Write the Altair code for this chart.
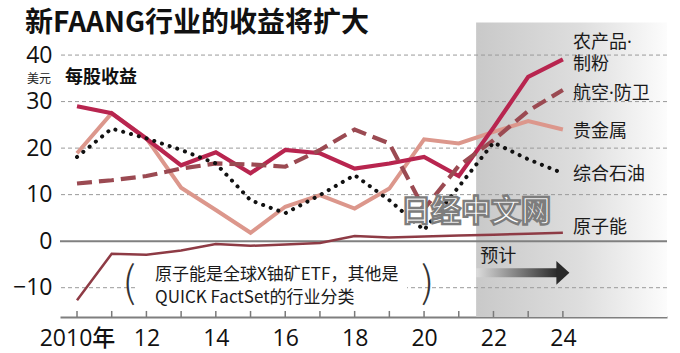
import altair as alt
import pandas as pd

# ---- data ----
years = list(range(2010, 2025))
agri  = [29.0, 27.5, 22.0, 16.3, 19.1, 14.6, 19.6, 18.9, 15.6, 16.7, 18.1, 14.0, 24.4, 35.3, 39.1]
aero  = [12.4, 13.1, 14.0, 15.6, 16.7, 16.5, 16.0, 19.6, 24.0, 21.0, 6.9, 16.2, 21.7, 28.0, 32.5]
metal = [18.9, 27.5, 22.1, 11.5, 6.7, 1.8, 7.4, 9.9, 7.0, 11.3, 21.9, 21.0, 23.5, 25.8, 24.0]
oil   = [18.1, 24.2, 22.1, 19.6, 16.7, 8.8, 6.0, 9.9, 14.2, 8.8, 2.4, 11.7, 21.2, 17.6, 14.6]
nuke  = [-12.7, -2.7, -2.9, -2.0, -0.6, -1.0, -0.7, -0.4, 1.1, 0.8, 1.0, 1.2, 1.4, 1.6, 1.8]

series_names = ["农产品·制粉", "航空·防卫", "贵金属", "综合石油", "原子能"]
series_vals = [agri, aero, metal, oil, nuke]
label_texts = [["农产品·", "制粉"], "航空·防卫", "贵金属", "综合石油", "原子能"]

y_ticks = [-10, 0, 10, 20, 30, 40]
x_label_years = [2010, 2012, 2014, 2016, 2018, 2020, 2022, 2024]
grid_dashed = [-10, 10, 20, 30, 40]
forecast_start = 2021.5

X_MIN, X_MAX = 2009.51, 2027.0
Y_MIN, Y_MAX = -16.3, 47.0

CJK = "Noto Sans CJK SC"
LAB = "Noto Sans, Noto Sans CJK SC"
NUM = "Open Sans, Noto Sans, Noto Sans CJK SC"

rows = []
for name, vals in zip(series_names, series_vals):
    for yr, v in zip(years, vals):
        rows.append({"year": yr, "value": v, "series": name})
df = pd.DataFrame(rows)

xs = alt.Scale(domain=[X_MIN, X_MAX], nice=False, zero=False)
ys = alt.Scale(domain=[Y_MIN, Y_MAX], nice=False, zero=False)

x_axis = alt.Axis(
    values=x_label_years, labelExpr="datum.value == 2010 ? '2010年' : slice(toString(datum.value), 2)",
    ticks=False, grid=False, domain=True, domainColor="#7f7f7f", domainWidth=2,
    labelFontSize=23, labelFont=NUM, labelColor="#111", labelPadding=10, title=None,
    labelFontWeight=500, labelFlush=False)
y_axis = alt.Axis(
    values=y_ticks, ticks=False, grid=False, domain=False,
    labelFontSize=23, labelFont=NUM, labelColor="#111", labelPadding=8, title=None,
    labelFontWeight=500)

def xd(v):
    return alt.XDatum(v, scale=xs, axis=x_axis)

def yd(v):
    return alt.YDatum(v, scale=ys, axis=y_axis)

base_empty = alt.Chart(pd.DataFrame({"a": [0]}))

# forecast shade
shade = base_empty.mark_rect(
    color=alt.LinearGradient(
        gradient="linear",
        stops=[alt.GradientStop(color="#c9c9c9", offset=0),
               alt.GradientStop(color="#dedede", offset=0.55),
               alt.GradientStop(color="#fcfcfc", offset=1)],
        x1=0, x2=1, y1=0, y2=0)
).encode(x=xd(forecast_start), x2=alt.X2Datum(X_MAX), y=yd(Y_MAX), y2=alt.Y2Datum(Y_MIN))

# grid lines
grid = alt.Chart(pd.DataFrame({"g": grid_dashed})).mark_rule(
    color="#9a9a9a", strokeWidth=1, strokeDash=[4, 3]
).encode(y=alt.Y("g:Q", scale=ys, axis=y_axis))

# white box behind the note (hides the -10 grid line there)
note_box = base_empty.mark_rect(color="white").encode(
    x=xd(2011.73), x2=alt.X2Datum(2019.51), y=yd(-7.9), y2=alt.Y2Datum(-12.6))

zero_line = base_empty.mark_rule(color="#808080", strokeWidth=2).encode(y=yd(0))

# year ticks pointing up from the axis
ticks = alt.Chart(pd.DataFrame({"t": years})).mark_rule(color="#7a7a7a", strokeWidth=1.5).encode(
    x=alt.X("t:Q", scale=xs, axis=x_axis), y=yd(Y_MIN), y2=alt.Y2Datum(Y_MIN + 1.3))

styles = {
    "贵金属": dict(color="#dc978c", strokeWidth=4),
    "农产品·制粉": dict(color="#b8254f", strokeWidth=4.2),
    "航空·防卫": dict(color="#9b4a52", strokeWidth=4.2, strokeDash=[15, 7]),
    "综合石油": dict(color="#111111", strokeWidth=4, strokeDash=[0.1, 8], strokeCap="round"),
    "原子能": dict(color="#8e3b45", strokeWidth=2.5),
}
order = ["贵金属", "农产品·制粉", "航空·防卫", "综合石油", "原子能"]

lines = []
for name in order:
    lines.append(
        alt.Chart(df).transform_filter(alt.datum.series == name).mark_line(**styles[name]).encode(
            x=alt.X("year:Q", scale=xs, axis=x_axis),
            y=alt.Y("value:Q", scale=ys, axis=y_axis),
        )
    )

# series labels at the right end of each line
label_dy = {"农产品·制粉": -16, "航空·防卫": 4, "贵金属": 2, "综合石油": 2, "原子能": -5}
label_layers = []
for name, vals, txt in zip(series_names, series_vals, label_texts):
    label_layers.append(
        base_empty.mark_text(text=txt, align="left", baseline="middle", font=LAB, fontSize=18,
                             color="#1a1a1a", lineHeight=22, dy=label_dy[name])
        .encode(x=xd(2024.29), y=yd(vals[-1]))
    )

# forecast arrow
arrow_bar = base_empty.mark_rect(
    color=alt.LinearGradient(
        gradient="linear",
        stops=[alt.GradientStop(color="#dcdcdc", offset=0),
               alt.GradientStop(color="#8a8a8a", offset=0.45),
               alt.GradientStop(color="#2a2a2a", offset=1)],
        x1=0, x2=1, y1=0, y2=0)
).encode(x=xd(forecast_start), x2=alt.X2Datum(2023.85), y=yd(-5.8), y2=alt.Y2Datum(-7.75))
arrow_head = base_empty.mark_point(
    shape="M-0.55,-1 L0.55,0 L-0.55,1 Z", filled=True, color="#2a2a2a", size=560, opacity=1
).encode(x=xd(2024.0), y=yd(-6.8))
forecast_txt = base_empty.mark_text(text="预计", align="left", baseline="middle", font=CJK,
                                    fontSize=18, color="#1a1a1a").encode(x=xd(2021.62), y=yd(-3.4))

# note
note = base_empty.mark_text(
    text=["原子能是全球X铀矿ETF，其他是", "QUICK FactSet的行业分类"],
    align="left", baseline="middle", font=CJK, fontSize=17, color="#1a1a1a", lineHeight=23
).encode(x=xd(2012.25), y=yd(-7.3))
paren_l = base_empty.mark_text(text="(", align="center", baseline="middle", font=CJK, fontSize=42,
                               fontWeight=200, color="#333").encode(x=xd(2011.5), y=yd(-9.3))
paren_r = base_empty.mark_text(text=")", align="center", baseline="middle", font=CJK, fontSize=42,
                               fontWeight=200, color="#333").encode(x=xd(2020.1), y=yd(-9.3))

# watermark
watermark = base_empty.mark_text(
    text="日经中文网", align="center", baseline="middle", font=CJK, fontSize=30, fontWeight="bold",
    fill="white", stroke="#7d7d7d", strokeWidth=2.4
).encode(x=xd(2021.5), y=yd(6.2))

# title & unit texts
title = base_empty.mark_text(
    text="新FAANG行业的收益将扩大", align="left", baseline="middle", font=CJK, fontSize=28,
    fontWeight="bold", color="#111").encode(x=alt.value(-35), y=alt.value(1.5))
unit = base_empty.mark_text(text="美元", align="left", baseline="middle", font=CJK, fontSize=12,
                            color="#222").encode(x=alt.value(-33), y=alt.value(56.5))
eps = base_empty.mark_text(text="每股收益", align="left", baseline="middle", font=CJK, fontSize=18,
                           fontWeight="bold", color="#111").encode(x=alt.value(5), y=alt.value(55))

chart = alt.layer(
    shade, grid, note_box, zero_line, ticks, *lines, *label_layers,
    arrow_bar, arrow_head, forecast_txt, note, paren_l, paren_r, watermark, title, unit, eps
).properties(
    width=607, height=294.5,
    autosize=alt.AutoSizeParams(type="none"),
    padding={"left": 60, "top": 22.5, "right": 13, "bottom": 36},
    background="white",
).configure_view(stroke=None)

chart.save("out.html", embed_options={"renderer": "svg", "actions": False})
